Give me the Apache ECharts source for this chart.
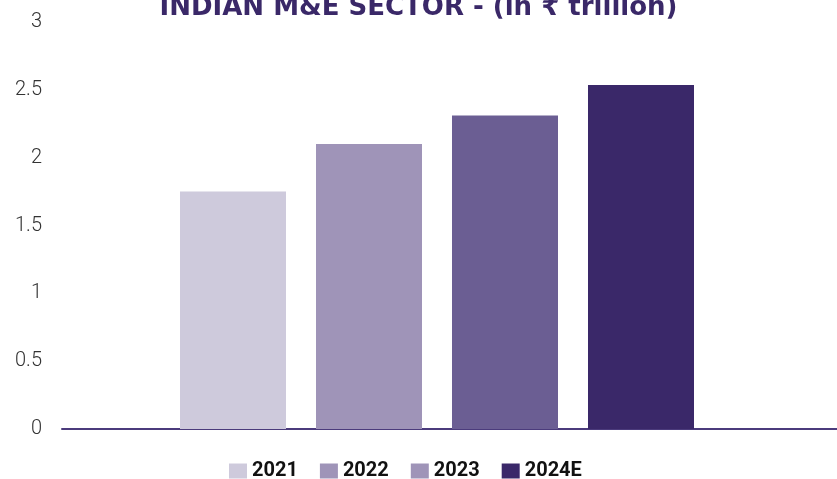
<!DOCTYPE html>
<html>
<head>
<meta charset="utf-8">
<script src="https://cdn.jsdelivr.net/npm/echarts@6/dist/echarts.min.js"></script>
<style>html,body{margin:0;padding:0;background:#fff}#c{width:837px;height:479px}</style>
</head>
<body>
<div id="c"></div>
<script>
const titleText = 'INDIAN M&E SECTOR - (in ₹ trillion)';
const seriesNames = ['2021', '2022', '2023', '2024E'];
const seriesValues = [1.75, 2.10, 2.31, 2.535];
const barColors = ['#CECADC', '#9F94B8', '#6B5E93', '#3A2869'];
const legendColors = ['#CECADC', '#9F94B8', '#9F94B8', '#3A2869'];
const yTicks = { min: 0, max: 3, interval: 0.5 };

const chart = echarts.init(document.getElementById('c'));
chart.setOption({
  animation: false,
  backgroundColor: '#ffffff',
  title: {
    text: titleText,
    left: 'center',
    top: -10,
    textStyle: { fontFamily: 'DejaVu Sans', fontWeight: 'bold', fontSize: 26, color: '#3A2868' }
  },
  legend: {
    bottom: -7,
    left: 224,
    itemWidth: 18,
    itemHeight: 15,
    itemGap: 22,
    icon: 'rect',
    textStyle: { fontFamily: 'Roboto', fontWeight: 'bold', fontSize: 20, color: '#111' },
    data: seriesNames.map((n, i) => ({ name: n, itemStyle: { color: legendColors[i] } }))
  },
  grid: [
    { left: 62, right: 25, top: 22, bottom: 50 },
    { left: 62, right: 0, top: 22, bottom: 50 }
  ],
  xAxis: [
    { type: 'category', gridIndex: 0, data: [''], axisLine: { show: false }, axisTick: { show: false }, axisLabel: { show: false } },
    { type: 'category', gridIndex: 1, data: [''], axisLine: { show: true, lineStyle: { color: '#4B3B7C', width: 2 } }, axisTick: { show: false }, axisLabel: { show: false } }
  ],
  yAxis: [
    {
      type: 'value', gridIndex: 0, min: yTicks.min, max: yTicks.max, interval: yTicks.interval,
      splitLine: { show: false }, axisLine: { show: false }, axisTick: { show: false },
      axisLabel: { margin: 20, fontFamily: 'Roboto', fontWeight: 300, fontSize: 20, color: '#333' }
    },
    { type: 'value', gridIndex: 1, min: yTicks.min, max: yTicks.max, show: false }
  ],
  series: seriesNames.map((n, i) => ({
    name: n,
    type: 'bar',
    xAxisIndex: 0,
    yAxisIndex: 0,
    barWidth: 106,
    barGap: '28.3%',
    data: [seriesValues[i]],
    itemStyle: { color: barColors[i] }
  }))
});
</script>
</body>
</html>
